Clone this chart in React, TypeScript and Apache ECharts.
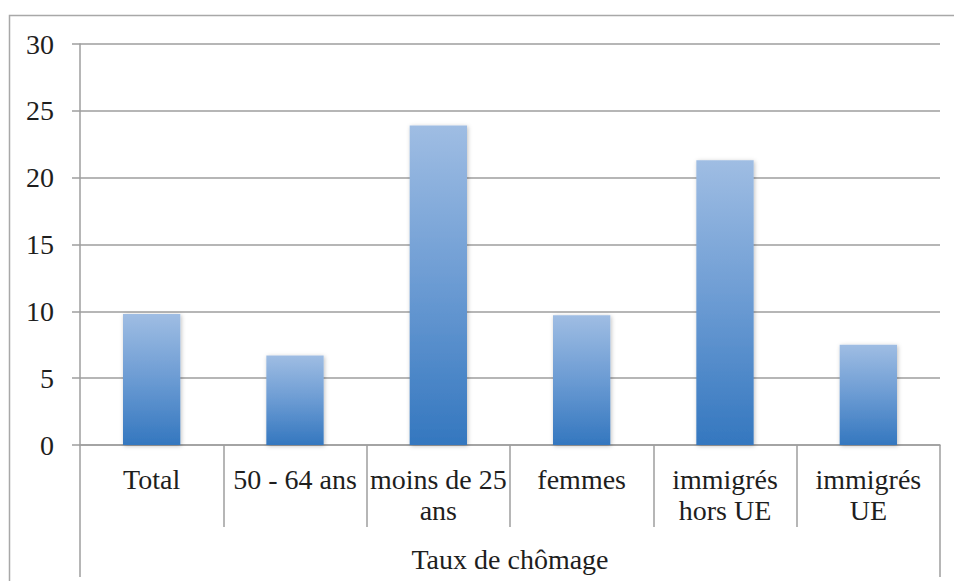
import React, { useEffect, useRef } from "react";
import * as echarts from "echarts";

const categories = ["Total", "50 - 64 ans", "moins de 25\nans", "femmes", "immigrés\nhors UE", "immigrés\nUE"];
const values = [9.8, 6.7, 23.9, 9.7, 21.3, 7.5];
const groupLabels = ["Taux de chômage"];
const yMin = 0;
const yMax = 30;
const yStep = 5;

const FONT = "'Liberation Serif', 'DejaVu Serif', serif";
const LINE = "#9e9e9e";
const TEXT = "#1e1e1e";

export default function App() {
  const ref = useRef<HTMLDivElement>(null);
  useEffect(() => {
    if (!ref.current) return;
    const chart = echarts.init(ref.current, null, { renderer: "svg" });
    chart.setOption({
      animation: false,
      backgroundColor: "#ffffff",
      grid: { left: 80, right: 14, top: 44, bottom: 136, containLabel: false },
      graphic: [
        {
          type: "rect",
          shape: { x: 9.5, y: 15.5, width: 1100, height: 1000 },
          style: { fill: "none", stroke: "#a8a8a8", lineWidth: 1.5 },
          silent: true,
          z: -1,
        },
      ],
      xAxis: [
        {
          type: "category",
          data: categories,
          position: "bottom",
          axisLine: { show: true, lineStyle: { color: LINE, width: 1.5 } },
          axisTick: { show: true, length: 82, lineStyle: { color: LINE, width: 1.5 } },
          axisLabel: {
            color: TEXT,
            fontFamily: FONT,
            fontSize: 28,
            lineHeight: 31,
            margin: 19,
            interval: 0,
          },
          splitLine: { show: false },
        },
        {
          type: "category",
          data: groupLabels,
          position: "bottom",
          offset: 82,
          axisLine: { show: false },
          axisTick: { show: true, length: 50, lineStyle: { color: LINE, width: 1.5 } },
          axisLabel: {
            color: TEXT,
            fontFamily: FONT,
            fontSize: 28,
            lineHeight: 31,
            margin: 17,
          },
        },
      ],
      yAxis: {
        type: "value",
        min: yMin,
        max: yMax,
        interval: yStep,
        axisLine: { show: true, lineStyle: { color: LINE, width: 1.5 } },
        axisTick: { show: true, length: 8, lineStyle: { color: LINE, width: 1.5 } },
        axisLabel: {
          color: TEXT,
          fontFamily: FONT,
          fontSize: 28,
          margin: 26,
        },
        splitLine: { show: true, lineStyle: { color: LINE, width: 1.5 } },
      },
      series: [
        {
          type: "bar",
          xAxisIndex: 0,
          data: values,
          barWidth: "40%",
          itemStyle: {
            color: new echarts.graphic.LinearGradient(0, 0, 0, 1, [
              { offset: 0, color: "#9fbde3" },
              { offset: 0.5, color: "#6b9bd3" },
              { offset: 1, color: "#3477bf" },
            ]),
            shadowBlur: 4,
            shadowColor: "rgba(0,0,0,0.25)",
            shadowOffsetX: 1,
            shadowOffsetY: 1,
          },
        },
      ],
    });
    return () => chart.dispose();
  }, []);
  return (
    <div
      ref={ref}
      style={{ position: "fixed", left: 0, top: 0, width: 954, height: 581 }}
    />
  );
}
